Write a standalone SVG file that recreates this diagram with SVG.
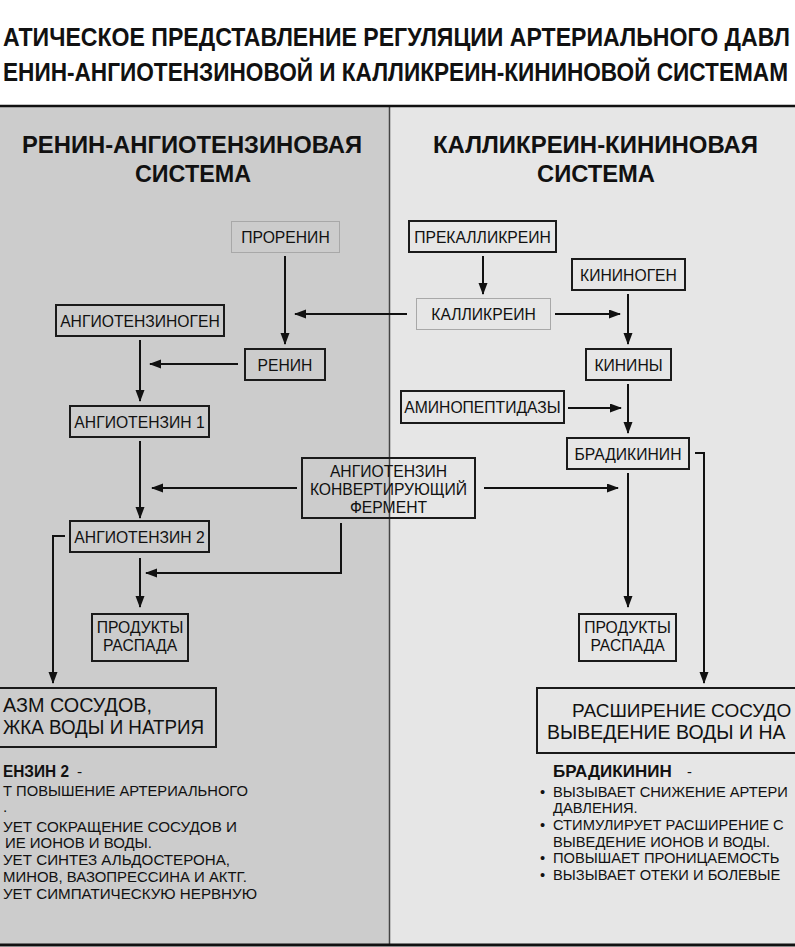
<svg xmlns="http://www.w3.org/2000/svg" width="795" height="947" viewBox="0 0 795 947">
<defs>
<marker id="ah" markerUnits="userSpaceOnUse" markerWidth="12" markerHeight="10" refX="11" refY="4.5" orient="auto">
<path d="M0,0 L12,4.5 L0,9 z" fill="#111"/>
</marker>
<style>
.t{font-family:"Liberation Sans",Arial,sans-serif;fill:#111}
.title{font-size:25px;font-weight:bold}
.hdr{font-size:24px;font-weight:bold}
.nb{fill:none;stroke:#1a1a1a;stroke-width:2}
.nl{fill:none;stroke:#a8a8a8;stroke-width:1}
.lbl{font-size:15.7px;text-anchor:middle}
.big{font-size:20.5px}
.sm{font-size:15.5px}
.smr{font-size:14.7px}
.c{fill:none;stroke:#111;stroke-width:2}
.a{marker-end:url(#ah)}
</style>
</defs>
<rect x="0" y="0" width="795" height="947" fill="#ffffff"/>
<rect x="0" y="106" width="390" height="838" fill="#cccccc"/>
<rect x="390" y="106" width="405" height="838" fill="#e6e6e6"/>
<line x1="389.5" y1="106" x2="389.5" y2="944" stroke="#444" stroke-width="1.5"/>
<line x1="0" y1="106" x2="795" y2="106" stroke="#111" stroke-width="2.5"/>
<line x1="0" y1="945" x2="795" y2="945" stroke="#111" stroke-width="3"/>

<g id="title">
<text class="t title" transform="translate(3 46) scale(0.924 1)">АТИЧЕСКОЕ ПРЕДСТАВЛЕНИЕ РЕГУЛЯЦИИ АРТЕРИАЛЬНОГО ДАВЛ</text>
<text class="t title" transform="translate(3 81) scale(0.905 1)">ЕНИН-АНГИОТЕНЗИНОВОЙ И КАЛЛИКРЕИН-КИНИНОВОЙ СИСТЕМАМ</text>
</g>
<g id="hdr-left">
<text class="t hdr" x="22" y="153" textLength="340" lengthAdjust="spacingAndGlyphs">РЕНИН-АНГИОТЕНЗИНОВАЯ</text>
<text class="t hdr" x="135" y="182" textLength="116" lengthAdjust="spacingAndGlyphs">СИСТЕМА</text>
</g>
<g id="hdr-right">
<text class="t hdr" x="433" y="153" textLength="325" lengthAdjust="spacingAndGlyphs">КАЛЛИКРЕИН-КИНИНОВАЯ</text>
<text class="t hdr" x="537" y="182" textLength="118" lengthAdjust="spacingAndGlyphs">СИСТЕМА</text>
</g>

<g id="connectors">
<line class="c a" x1="285" y1="256" x2="285" y2="344"/>
<line class="c a" x1="407" y1="314" x2="295" y2="314"/>
<line class="c a" x1="238" y1="364" x2="150" y2="364"/>
<line class="c a" x1="140" y1="340" x2="140" y2="401"/>
<line class="c a" x1="483" y1="256" x2="483" y2="294"/>
<line class="c a" x1="555" y1="314" x2="620" y2="314"/>
<line class="c a" x1="628" y1="294" x2="628" y2="344"/>
<line class="c a" x1="628" y1="384" x2="628" y2="433"/>
<line class="c a" x1="568" y1="408" x2="621" y2="408"/>
<line class="c a" x1="140" y1="441" x2="140" y2="518"/>
<line class="c a" x1="297" y1="488" x2="152" y2="488"/>
<line class="c a" x1="484" y1="488" x2="618" y2="488"/>
<polyline class="c a" points="341,523 341,573 146,573"/>
<line class="c a" x1="140" y1="558" x2="140" y2="607"/>
<polyline class="c a" points="65,536 53,536 53,683"/>
<line class="c a" x1="628" y1="473" x2="628" y2="607"/>
<polyline class="c a" points="695,453 704,453 704,683"/>
</g>

<g id="prorenin"><rect class="nl" x="231.5" y="221.5" width="108" height="31"/><text class="t lbl" x="285.5" y="242.5">ПРОРЕНИН</text></g>
<g id="angiotensinogen"><rect class="nb" x="56" y="305" width="168" height="31"/><text class="t lbl" x="140" y="326.5">АНГИОТЕНЗИНОГЕН</text></g>
<g id="renin"><rect class="nb" x="245" y="349" width="80" height="31"/><text class="t lbl" x="285" y="370.5">РЕНИН</text></g>
<g id="angiotensin1"><rect class="nb" x="70" y="406" width="139" height="31"/><text class="t lbl" x="139.5" y="427.5">АНГИОТЕНЗИН 1</text></g>
<g id="ace"><rect class="nb" x="302" y="458" width="173" height="60"/>
<text class="t lbl" x="388.5" y="477">АНГИОТЕНЗИН</text>
<text class="t lbl" x="388.5" y="495">КОНВЕРТИРУЮЩИЙ</text>
<text class="t lbl" x="388.5" y="512.5">ФЕРМЕНТ</text></g>
<g id="angiotensin2"><rect class="nb" x="70" y="521" width="139" height="31"/><text class="t lbl" x="139.5" y="542.5">АНГИОТЕНЗИН 2</text></g>
<g id="products-left"><rect class="nb" x="92" y="614" width="96" height="47"/>
<text class="t lbl" x="140" y="633">ПРОДУКТЫ</text><text class="t lbl" x="140" y="650.5">РАСПАДА</text></g>
<g id="prekallikrein"><rect class="nb" x="409" y="221" width="147" height="31"/><text class="t lbl" x="482.5" y="242.5">ПРЕКАЛЛИКРЕИН</text></g>
<g id="kallikrein"><rect class="nl" x="416.5" y="298.5" width="134" height="31"/><text class="t lbl" x="483.5" y="319.5">КАЛЛИКРЕИН</text></g>
<g id="kininogen"><rect class="nb" x="572" y="259" width="113" height="31"/><text class="t lbl" x="628.5" y="280.5">КИНИНОГЕН</text></g>
<g id="kinins"><rect class="nb" x="586" y="349" width="85" height="31"/><text class="t lbl" x="628.5" y="370.5">КИНИНЫ</text></g>
<g id="aminopeptidases"><rect class="nb" x="401" y="391" width="163" height="32"/><text class="t lbl" x="482.5" y="412.5">АМИНОПЕПТИДАЗЫ</text></g>
<g id="bradykinin"><rect class="nb" x="567" y="438" width="122" height="31"/><text class="t lbl" x="628" y="459.5">БРАДИКИНИН</text></g>
<g id="products-right"><rect class="nb" x="579" y="614" width="97" height="47"/>
<text class="t lbl" x="627.5" y="633">ПРОДУКТЫ</text><text class="t lbl" x="627.5" y="650.5">РАСПАДА</text></g>

<g id="effect-left"><rect class="nb" x="-10" y="688" width="226" height="59"/>
<text class="t big" x="3" y="712" textLength="149" lengthAdjust="spacingAndGlyphs">АЗМ СОСУДОВ,</text>
<text class="t big" x="3" y="734" textLength="201" lengthAdjust="spacingAndGlyphs">ЖКА ВОДЫ И НАТРИЯ</text></g>
<g id="effect-right"><rect class="nb" x="537" y="688" width="270" height="65"/>
<text class="t" x="572" y="717" font-size="19px">РАСШИРЕНИЕ СОСУДО</text>
<text class="t" x="547" y="739" font-size="19.5px">ВЫВЕДЕНИЕ ВОДЫ И НА</text></g>

<g id="notes-left" class="t sm">
<text x="3" y="777" font-weight="bold" font-size="17px" textLength="66" lengthAdjust="spacingAndGlyphs">ЕНЗИН 2</text>
<text x="77" y="777">-</text>
<text x="3" y="796" textLength="245" lengthAdjust="spacingAndGlyphs">Т ПОВЫШЕНИЕ АРТЕРИАЛЬНОГО</text>
<text x="3" y="812">.</text>
<text x="3" y="832" textLength="234" lengthAdjust="spacingAndGlyphs">УЕТ СОКРАЩЕНИЕ СОСУДОВ И</text>
<text x="5" y="848" textLength="147" lengthAdjust="spacingAndGlyphs">ИЕ ИОНОВ И ВОДЫ.</text>
<text x="3" y="865" textLength="227" lengthAdjust="spacingAndGlyphs">УЕТ СИНТЕЗ АЛЬДОСТЕРОНА,</text>
<text x="3" y="882" textLength="244" lengthAdjust="spacingAndGlyphs">МИНОВ, ВАЗОПРЕССИНА И АКТГ.</text>
<text x="3" y="899" textLength="254" lengthAdjust="spacingAndGlyphs">УЕТ СИМПАТИЧЕСКУЮ НЕРВНУЮ</text>
</g>
<g id="notes-right" class="t smr">
<text x="553" y="777" font-weight="bold" font-size="17px">БРАДИКИНИН</text>
<text x="687" y="777">-</text>
<text x="540" y="797">•</text><text x="553" y="797">ВЫЗЫВАЕТ СНИЖЕНИЕ АРТЕРИ</text>
<text x="553" y="813">ДАВЛЕНИЯ.</text>
<text x="540" y="830">•</text><text x="553" y="830">СТИМУЛИРУЕТ РАСШИРЕНИЕ С</text>
<text x="553" y="847">ВЫВЕДЕНИЕ ИОНОВ И ВОДЫ.</text>
<text x="540" y="863">•</text><text x="553" y="863">ПОВЫШАЕТ ПРОНИЦАЕМОСТЬ</text>
<text x="540" y="880">•</text><text x="553" y="880">ВЫЗЫВАЕТ ОТЕКИ И БОЛЕВЫЕ</text>
</g>
</svg>
